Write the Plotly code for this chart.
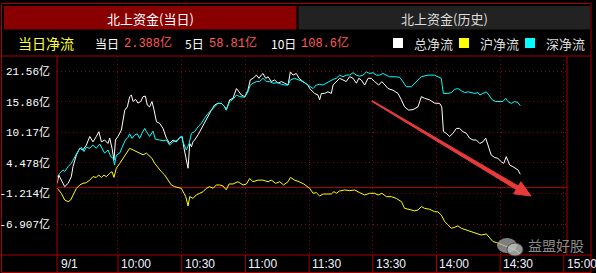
import plotly.graph_objects as go

# ---------------- data (trading minutes after 09:30; lunch break removed, 120 = 11:30 = 13:00) -------------
t_total = [1.4, 2.1, 4.9, 6.5, 8, 8.8, 10.4, 12, 13.5, 15.1, 16.7, 18.2, 19.8, 21, 22.2, 23.7, 25.3, 26.1,
           27.2, 28.1, 28.8, 30, 31.6, 32.4, 33.2, 34.4, 35.5, 36.3, 37.1, 38.3, 39.4, 40.7, 41.8, 42.9, 43.8,
           44.9, 46, 47, 48.1, 49.6, 51.2, 52.8, 54.3, 55.9, 57.5, 59, 60.2, 61.1, 61.9, 63, 63.8, 64.6, 65.3,
           66.1, 67.7, 69.3, 70.8, 72.4, 74, 75.5, 77.1, 78.7, 80.3, 81, 82.6, 84.2, 85.8, 87, 88.1, 89.7,
           91.2, 92.3, 93.6, 95.2, 96.4, 97.5, 98.3, 99.6, 100.7, 102.2, 103.8, 105.4, 107, 108.5, 110.1,
           111.2, 112.4, 114, 115.3, 117.1, 119.5,
           120.3, 122.6, 124.2, 125, 125.8, 127.3, 128.9, 130.5, 131.3, 132.8, 134.4, 136, 137.5, 139.1,
           140.7, 142.3, 143.4, 144.6, 146.2, 147.8, 149.3, 150.9, 152.8, 154.3, 155.6, 157.2, 159.5, 161.9,
           163.5, 165, 166.9, 169, 171.3, 172.9, 174.4, 176.8, 179.1, 181.5, 182.5, 183.3, 184.6, 186.2,
           187.8, 189.4, 190.9, 192.5, 194.1, 195.6, 197.2, 198.8, 200.4, 201.9, 203.2, 204.3, 205.8, 207.4,
           208.9, 210.6, 211.7, 212.9, 214.5, 216, 217.6, 218.4, 219.5]
v_total = [0.7, 2.25, 0.08, 0.7, 1.9, 3.8, 5.96, 7.2, 6.9, 7.8, 9.4, 8.4, 9.4, 10.3, 8.4, 8.75, 8.1, 9.1,
           7.2, 5.0, 8.75, 9.4, 10.6, 12.5, 14.3, 14.9, 16.8, 17.1, 15.9, 16.3, 15.6, 15.9, 16.8, 16.9, 15.25,
           14.9, 15.9, 14.3, 12.15, 11.85, 10.9, 9.1, 8.1, 8.75, 8.4, 9.2, 9.4, 7.2, 5.65, 3.5, 8.1, 7.5, 8.4,
           8.75, 9.7, 10.9, 12.15, 13.4, 14.3, 15.25, 15.56, 15.56, 14.9, 14.3, 16.2, 16.5, 18.3, 17.7, 17.1,
           16.8, 18.0, 19.9, 20.2, 20.8, 20.2, 20.8, 21.1, 20.2, 20.5, 19.6, 19.9, 19.3, 19.6, 19.3, 18.96,
           21.4, 20.8, 21.1, 20.2, 19.6, 18.96,
           18.3, 17.4, 17.1, 16.2, 17.4, 17.4, 17.7, 17.4, 18.96, 19.6, 20.2, 19.9, 19.6, 20.5,
           20.2, 19.3, 20.2, 19.9, 18.96, 20.2, 20.2, 19.6, 18.96, 19.6, 18.96, 18.3, 18.0, 17.4,
           16.2, 14.9, 14.3, 14.4, 14.9, 16.8, 16.5, 16.2, 15.6, 15.55, 14.9, 10.3, 10.0, 9.4,
           10.0, 10.9, 10.9, 10.3, 10.0, 9.1, 8.75, 8.75, 8.1, 8.4, 9.1, 7.8, 5.96, 5.5,
           5.35, 4.7, 4.4, 5.65, 4.1, 3.8, 3.5, 3.2, 2.39]

t_sh = [1.4, 3.3, 4.9, 6.5, 7.7, 8.8, 10.4, 12, 13.5, 15.1, 16.7, 18.2, 19.8, 20.9, 22.2, 23.4, 24.5, 26.1,
        27.2, 28.1, 29.2, 30.8, 32.4, 33.9, 35.5, 37.1, 38.7, 40.2, 41.8, 43.4, 44.9, 46, 47.3, 48.9, 50.4,
        52, 53.6, 55.1, 56.7, 58.3, 59.8, 61.1, 61.9, 63, 63.8, 65.3, 66.9, 68.5, 70.1, 71.6, 73.2, 74.8,
        76.3, 77.9, 79.5, 81, 82.3, 84.2, 86.5, 88.9, 90.5, 92, 93.6, 96, 98.3, 100.7, 102.2, 104.3, 106.2,
        108, 110.1, 111.2, 113.2, 115.3, 117.5,
        120.3, 121.9, 123.4, 125, 126.6, 128.9, 130.5, 131.7, 132.8, 134.4, 136.8, 139.1, 141.5, 143.8,
        146.2, 148.5, 150.9, 152.5, 154.3, 156.4, 158.7, 161.1, 163.5, 165, 167.4, 169.7, 171.3, 172.9,
        174.4, 176.8, 179.1, 180.7, 182.3, 183.9, 185.4, 187, 188.6, 190.1, 191.7, 194.1, 196.4, 198.8,
        201.1, 203.5, 205.1, 206.6, 208.2, 211.3, 213.7, 215.3, 217.6, 219.5]
v_sh = [-0.23, -1.15, -2.4, -2.7, -2.4, -1.45, -0.23, 0.4, 0.7, 0.83, 1.3, 1.93, 1.8, 2.25, 1.8, 2.25, 1.93,
        2.56, 2.87, 1.8, 3.5, 4.4, 5.35, 6.3, 7.2, 6.9, 6.6, 6.3, 6.0, 6.3, 5.65, 5.35, 4.4, 3.5, 2.87,
        2.25, 1.3, 0.4, 0.08, -0.04, -0.23, -1.15, -1.77, -3.5, -1.77, -2.1, -1.45, -1.15, -0.84, -0.23,
        0.08, -0.23, 0.4, 0.4, 0.2, -0.5, 0.58, 0.58, 1.0, 0.4, 0.58, 1.6, 1.0, 1.3, 1.3, 1.0, 1.3, 0.7,
        1.0, 0.4, 1.0, 1.8, 1.3, 1.0, 0.58,
        -0.23, -1.15, -1.03, -1.65, -1.28, -1.34, -1.28, -0.84, -1.15, -0.72, -0.53, -0.66, -0.53, -1.03,
        -1.46, -1.15, -1.15, -1.46, -1.15, -1.77, -1.77, -2.1, -2.7, -3.94, -4.25, -4.4, -4.25, -3.63,
        -3.94, -4.12, -4.56, -4.6, -5.2, -6.4, -7.0, -7.65, -7.46, -7.2, -7.65, -7.96, -8.27, -8.6,
        -8.9, -8.7, -9.5, -10.1, -10.3, -10.75, -11.07, -11.37, -11.8, -12.5]

t_sz = [1.4, 2.5, 4.1, 4.9, 6.5, 8, 8.8, 10.4, 11.5, 12.8, 14, 15.1, 16.7, 18.2, 19.8, 21.4, 22.5, 23.7,
        25.3, 26.6, 27.7, 28.4, 29.2, 30.8, 32.4, 33.5, 34.7, 35.5, 36.6, 37.9, 39.1, 40.2, 41.3, 42.6,
        43.4, 44.9, 46.5, 47.6, 49.6, 51.2, 52.8, 54.3, 55.9, 58.3, 59.9, 60.6, 62.2, 63.5, 64.6, 66.1,
        67.7, 69.3, 70.8, 72.4, 74, 75.5, 77.1, 78.7, 80.3, 81, 82.6, 84.2, 85.8, 87.3, 89.7, 91.2, 92.3,
        93.6, 95.2, 96.7, 98.3, 99.9, 101.4, 103, 105.4, 107, 108.5, 110.1, 111.2, 113.2, 114.8, 117.1,
        119.5,
        121.9, 123.4, 125, 126.6, 128.1, 129.7, 131.3, 132.8, 134.4, 136, 137.5, 139.1, 140.7, 142.3,
        143.8, 145.4, 147, 148.5, 150.1, 151.7, 153.2, 154.8, 156.4, 157.9, 160.3, 162.7, 164.2, 165.8,
        168.2, 169.7, 171.3, 172.9, 176, 179.1, 180.7, 182.3, 182.8, 183.3, 185.4, 187, 188.6, 190.1,
        191.7, 193.3, 194.9, 196.4, 198, 199.6, 200.4, 201.9, 203.5, 204.7, 206.3, 207.9, 209.8, 211.3,
        212.6, 213.7, 215.3, 216.8, 218.4, 219.5]
v_sz = [1.9, 2.55, 3.2, 2.9, 3.8, 4.4, 5.0, 6.3, 6.9, 7.4, 6.6, 7.4, 7.2, 7.8, 7.2, 8.0, 7.2, 6.3,
        6.9, 5.65, 5.35, 4.1, 5.96, 6.3, 7.8, 8.75, 9.25, 9.9, 9.05, 9.7, 9.9, 9.05, 10.0, 10.9,
        10.3, 9.4, 10.4, 8.9, 8.75, 8.6, 8.75, 7.8, 8.4, 8.75, 9.5, 8.4, 6.9, 8.1, 10.0, 10.3,
        11.2, 11.85, 12.8, 13.7, 14.3, 14.9, 15.55, 15.55, 14.9, 14.3, 15.9, 16.3, 17.1, 16.8, 16.7, 17.7,
        18.96, 19.3, 19.6, 19.6, 20.2, 19.6, 19.6, 19.3, 19.4, 19.1, 18.96, 18.96, 19.9, 20.2, 19.9, 19.6,
        18.96,
        18.3, 18.96, 19.1, 18.96, 19.3, 19.6, 20.0, 20.2, 20.8, 20.5, 20.8, 20.8, 21.25, 20.8,
        20.6, 20.8, 21.4, 21.1, 21.25, 20.8, 20.8, 21.1, 20.8, 20.5, 20.5, 20.4, 19.6, 18.65,
        18.65, 19.3, 19.9, 20.5, 20.8, 20.8, 20.5, 20.2, 18.65, 17.4, 17.4, 17.55, 18.15, 18.3,
        17.9, 17.55, 17.7, 17.55, 17.4, 17.55, 17.1, 17.4, 17.7, 17.1, 16.2, 15.9, 15.9, 15.9,
        16.5, 15.9, 15.55, 15.9, 15.7, 15.1]

series_names = ["总净流", "沪净流", "深净流"]
series_colors = ["#ffffff", "#ffff00", "#00ffff"]

y_ticks = [21.56, 15.86, 10.17, 4.478, -1.214, -6.907]
y_tick_text = ["21.56亿", "15.86亿", "10.17亿", "4.478亿", "-1.214亿", "-6.907亿"]
x_ticks = [30, 60, 90, 120, 150, 180, 210, 240]
x_tick_text = ["10:00", "10:30", "11:00", "11:30", "13:30", "14:00", "14:30", "15:00"]
date_label = "9/1"

summary_labels = ["当日", "5日", "10日"]
summary_values = ["2.388亿", "58.81亿", "108.6亿"]

# ---------------- layout helpers (pixel -> paper) ----------------
W, H = 596, 273
L, R, T, B = 57, 567, 56, 255


def px(x):
    return (x - L) / (R - L)


def py(y):
    return (B - y) / (B - T)


RED = "#a80000"
GRID = "#8a0000"
CJK = "Noto Sans CJK SC"
MONO = "Liberation Mono, Noto Sans CJK SC"

fig = go.Figure()
for t, v, name, col in [(t_total, v_total, series_names[0], series_colors[0]),
                        (t_sh, v_sh, series_names[1], series_colors[1]),
                        (t_sz, v_sz, series_names[2], series_colors[2])]:
    fig.add_trace(go.Scatter(x=t, y=v, mode="lines", name=name,
                             line=dict(color=col, width=1), hoverinfo="skip"))

shapes = []
ann = []


def text(s, x, y, size, color, family=CJK, xanchor="left", xref="paper", xshift=0):
    ann.append(dict(text=s, xref=xref, yref="paper", x=x, y=py(y), xanchor=xanchor, yanchor="middle",
                    xshift=xshift, showarrow=False, font=dict(family=family, size=size, color=color)))


# outer frame and separators
shapes.append(dict(type="rect", xref="paper", yref="paper", x0=px(1.5), x1=px(591), y0=py(3.5), y1=py(272.5),
                   line=dict(color=RED, width=1), layer="below"))
shapes.append(dict(type="rect", xref="paper", yref="paper", x0=px(4), x1=px(296.5), y0=py(6), y1=py(29.5),
                   fillcolor="#880000", line=dict(width=0), layer="below"))
shapes.append(dict(type="rect", xref="paper", yref="paper", x0=px(298.5), x1=px(590), y0=py(6), y1=py(29.5),
                   fillcolor="#222222", line=dict(width=0), layer="below"))
for yy in (T, B):
    shapes.append(dict(type="line", xref="paper", yref="paper", x0=px(1.5), x1=px(591), y0=py(yy), y1=py(yy),
                       line=dict(color=RED, width=1)))
shapes.append(dict(type="line", xref="paper", yref="paper", x0=0, x1=0, y0=py(T), y1=py(272.5),
                   line=dict(color=RED, width=1)))
shapes.append(dict(type="line", xref="paper", yref="paper", x0=1, x1=1, y0=py(T), y1=py(B),
                   line=dict(color=RED, width=1)))
for xv in x_ticks:
    shapes.append(dict(type="line", xref="x", yref="paper", x0=xv, x1=xv, y0=py(B), y1=py(272.5),
                       line=dict(color=RED, width=1)))

# header
text("北上资金(当日)", px(150), 18, 13, "#ffffff", xanchor="center")
text("北上资金(历史)", px(444), 18, 13, "#dddddd", xanchor="center")

# info row
text("当日净流", px(16), 43, 14, "#ffff33")
for lab, val, xl, xv in zip(summary_labels, summary_values, [93, 183, 269], [122, 207, 298.5]):
    text(lab, px(xl), 43, 12, "#ffffff")
    text(val, px(xv), 43, 12, "#ff5a5a", family=MONO)

# legend
for name, col, xs in zip(series_names, series_colors, [393, 459, 525]):
    shapes.append(dict(type="rect", xref="paper", yref="paper", x0=px(xs), x1=px(xs + 10), y0=py(38), y1=py(48),
                       fillcolor=col, line=dict(width=0)))
    text(name, px(xs + 19), 43, 13, "#dddddd")

# x labels
text(date_label, px(59), 264, 12, "#eef2ff", family="Liberation Sans")
for xv, lab in zip(x_ticks, x_tick_text):
    text(lab, xv, 264, 12, "#eef2ff", family="Liberation Sans", xref="x", xshift=1)

# red trend arrow (tapered)
tail = (372, 101)
tip = (531, 196)
dx, dy = tip[0] - tail[0], tip[1] - tail[1]
ln = (dx * dx + dy * dy) ** 0.5
ux, uy = dx / ln, dy / ln
nx, ny = -uy, ux
hb = (tip[0] - 16 * ux, tip[1] - 16 * uy)


def pt(p):
    return f"{px(p[0]):.5f},{py(p[1]):.5f}"


pts = [(tail[0] - 0.5 * nx, tail[1] - 0.5 * ny), (hb[0] - 2 * nx, hb[1] - 2 * ny),
       (hb[0] - 7 * nx, hb[1] - 7 * ny), tip, (hb[0] + 7 * nx, hb[1] + 7 * ny),
       (hb[0] + 2 * nx, hb[1] + 2 * ny), (tail[0] + 0.5 * nx, tail[1] + 0.5 * ny)]
path = "M " + " L ".join(pt(p) for p in pts) + " Z"
shapes.append(dict(type="path", xref="paper", yref="paper", path=path, fillcolor="#e83a3a",
                   line=dict(color="#e83a3a", width=1)))

# watermark
shapes.append(dict(type="circle", xref="paper", yref="paper", x0=px(497), x1=px(517), y0=py(238), y1=py(253),
                   fillcolor="rgba(170,170,170,0.75)", line=dict(width=0)))
shapes.append(dict(type="circle", xref="paper", yref="paper", x0=px(507), x1=px(523), y0=py(243), y1=py(256),
                   fillcolor="rgba(190,190,190,0.8)", line=dict(color="rgba(60,60,60,0.8)", width=1)))
text("益盟好股", px(526), 245, 14, "#8c8c8c")

fig.update_layout(
    width=W, height=H,
    margin=dict(l=L, r=W - R, t=T, b=H - B, pad=0, autoexpand=False),
    paper_bgcolor="#000000", plot_bgcolor="#000000",
    showlegend=False,
    shapes=shapes, annotations=ann,
    xaxis=dict(range=[1.27, 241.5], tickvals=x_ticks, showticklabels=False, showgrid=True,
               gridcolor=GRID, griddash="1px,3px", gridwidth=1, zeroline=False, showline=False,
               fixedrange=True, automargin=False),
    yaxis=dict(range=[-12.61, 24.35], tickvals=y_ticks, ticktext=y_tick_text, showgrid=True,
               gridcolor=GRID, griddash="1px,3px", gridwidth=1, zeroline=True, zerolinecolor=RED,
               zerolinewidth=1, showline=False, ticks="", ticklabelstandoff=6,
               tickfont=dict(family=MONO, size=11, color="#ffffff"), fixedrange=True, automargin=False),
)

fig.write_html("out.html")
